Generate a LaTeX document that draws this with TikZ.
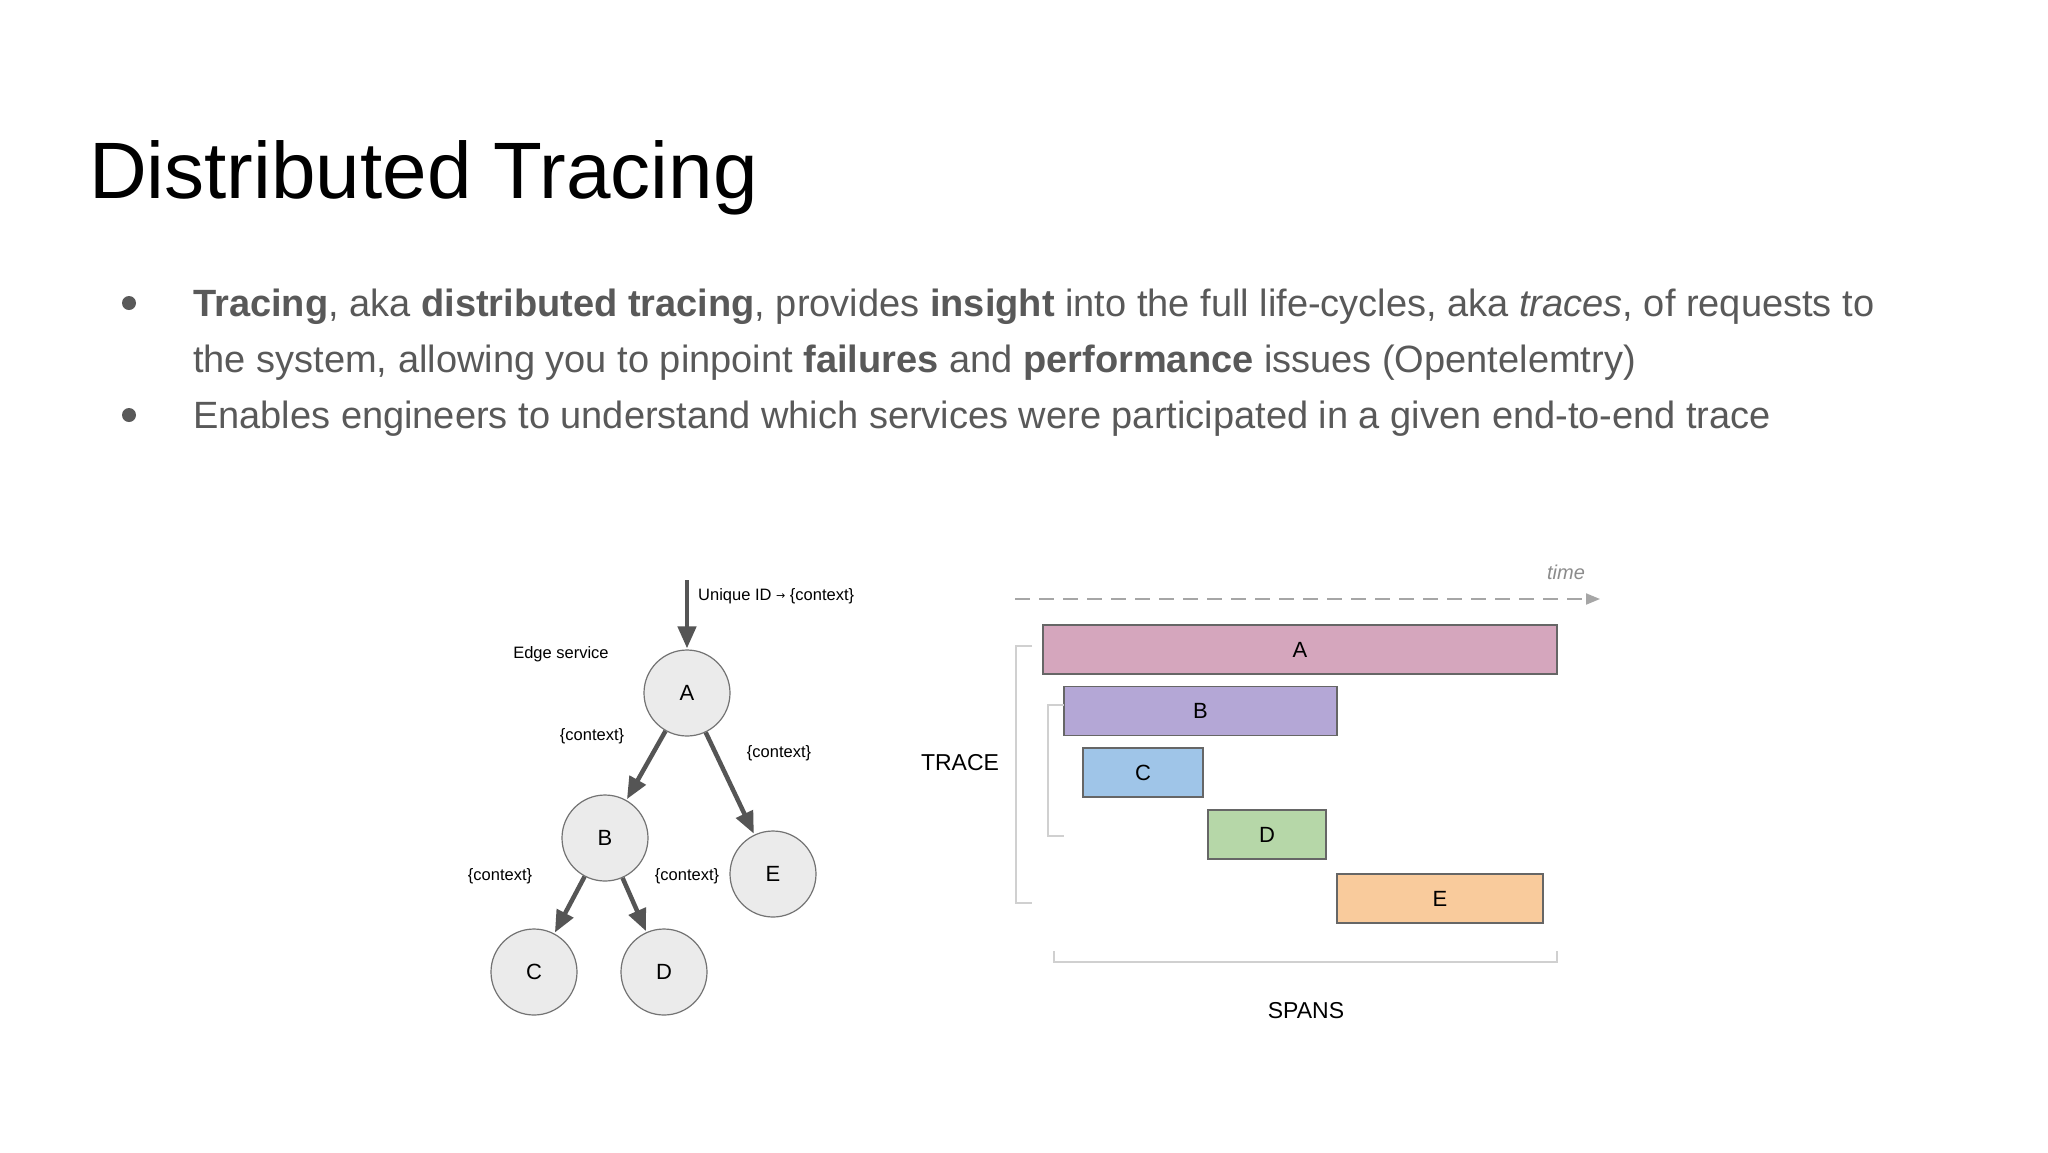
\documentclass[tikz,border=0pt]{standalone}
\usepackage{fontspec}
\setmainfont{Liberation Sans}
\usetikzlibrary{arrows.meta}
\definecolor{txt}{HTML}{595959}
\definecolor{cA}{HTML}{D5A6BD}
\definecolor{cB}{HTML}{B4A7D6}
\definecolor{cC}{HTML}{9FC5E8}
\definecolor{cD}{HTML}{B6D7A8}
\definecolor{cE}{HTML}{F9CB9C}
\definecolor{edge}{HTML}{555555}
\definecolor{brk}{HTML}{D0D0D0}
\begin{document}
\begin{tikzpicture}[x=1pt,y=-1pt,
  body/.style={font=\fontsize{38}{44}\selectfont, text=txt, anchor=base west, inner sep=0},
  svc/.style={circle, draw=black!55, fill=black!8, minimum size=86pt, line width=1.2pt, font=\fontsize{22}{26}\selectfont},
  small/.style={font=\fontsize{16.5}{20}\selectfont, inner sep=1pt},
  flow/.style={-{Triangle[length=22pt,width=18pt]}, line width=4.5pt, draw=edge, shorten >=1pt},
  span/.style={draw=black!60, line width=1.2pt, minimum height=49pt, inner sep=0, font=\fontsize{22}{26}\selectfont},
  bracket/.style={draw=brk, line width=1.6pt}]
\useasboundingbox (0,0) rectangle (2048,1152);
\fill[white] (0,0) rectangle (2048,1152);
\node[anchor=base west, inner sep=0, font=\fontsize{80}{90}\selectfont] (title) at (89,198) {Distributed Tracing};
\fill[txt] (129,303) circle (7);
\fill[txt] (129,415) circle (7);
\node[body] (l1) at (193,316) {\textbf{Tracing}, aka \textbf{distributed tracing}, provides \textbf{insight} into the full life-cycles, aka \textit{traces}, of requests to};
\node[body] (l2) at (193,372) {the system, allowing you to pinpoint \textbf{failures} and \textbf{performance} issues (Opentelemtry)};
\node[body] (l3) at (193,428) {Enables engineers to understand which services were participated in a given end-to-end trace};
% tree
\node[svc] (A) at (687,693) {A};
\node[svc] (B) at (605,838) {B};
\node[svc] (E) at (773,874) {E};
\node[svc] (C) at (534,972) {C};
\node[svc] (D) at (664,972) {D};
\coordinate (in) at (687,580);
\draw[flow] (in) -- (A);
\draw[flow] (A) -- (B);
\draw[flow] (A) -- (E);
\draw[flow] (B) -- (C);
\draw[flow] (B) -- (D);
\node[small, anchor=west] (uid) at (697,596) {Unique ID \raisebox{1pt}{\fontspec{DejaVu Sans}\fontsize{11}{12}\selectfont→} \{context\}};
\node[small] (es) at (561,654) {Edge service};
\node[small] (c1) at (592,736) {\{context\}};
\node[small] (c2) at (779,753) {\{context\}};
\node[small] (c3) at (500,876) {\{context\}};
\node[small] (c4) at (687,876) {\{context\}};
% spans
\coordinate (t0) at (1015,599);
\coordinate (t1) at (1600,599);
\draw[draw=black!35, line width=2pt, dash pattern=on 15pt off 9pt, -{Triangle[length=14pt,width=11pt]}] (t0) -- (t1);
\node[font=\fontsize{20}{24}\selectfont\itshape, text=black!45] (time) at (1566,572) {time};
\node[span, fill=cA, minimum width=514pt] (sA) at (1300,649.5) {A};
\node[span, fill=cB, minimum width=273pt] (sB) at (1200.5,711) {B};
\node[span, fill=cC, minimum width=120pt] (sC) at (1143,772.5) {C};
\node[span, fill=cD, minimum width=118pt] (sD) at (1267,834.5) {D};
\node[span, fill=cE, minimum width=206pt] (sE) at (1440,898.5) {E};
\draw[bracket] (1032,646) -- (1016,646) -- (1016,903) -- (1032,903);
\draw[bracket] (1064,705) -- (1048,705) -- (1048,836) -- (1064,836);
\draw[bracket] (1054,951) -- (1054,962) -- (1557,962) -- (1557,951);
\node[font=\fontsize{23}{27}\selectfont] (trace) at (960,763) {TRACE};
\node[font=\fontsize{23}{27}\selectfont] (spans) at (1306,1011) {SPANS};
\end{tikzpicture}
\end{document}
